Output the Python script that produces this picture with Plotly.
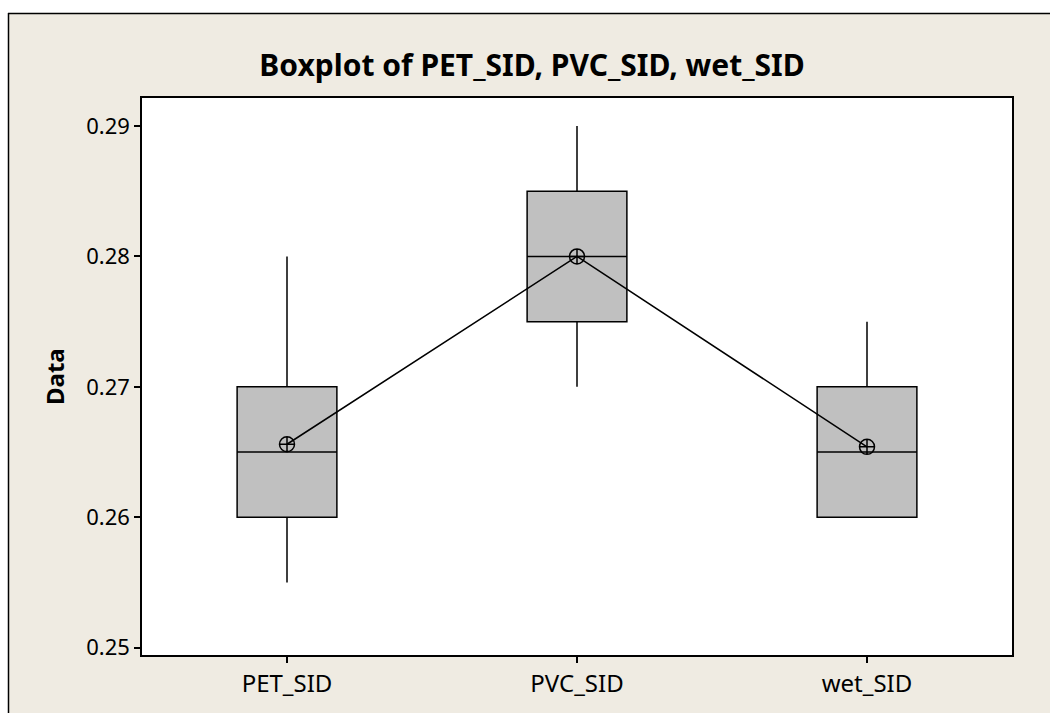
import plotly.graph_objects as go

categories = ["PET_SID", "PVC_SID", "wet_SID"]
q1 = [0.260, 0.275, 0.260]
median = [0.265, 0.280, 0.265]
q3 = [0.270, 0.285, 0.270]
lower_whisker = [0.255, 0.270, 0.260]
upper_whisker = [0.280, 0.290, 0.275]
means = [0.2656, 0.2800, 0.2654]
y_ticks = [0.25, 0.26, 0.27, 0.28, 0.29]

FONT = "Noto Sans"
BEIGE = "#EFEBE2"

fig = go.Figure()
fig.add_trace(go.Box(
    x=categories, q1=q1, median=median, q3=q3,
    lowerfence=lower_whisker, upperfence=upper_whisker,
    fillcolor="#C0C0C0", line=dict(color="black", width=1.5),
    whiskerwidth=0, width=0.344, boxpoints=False, showlegend=False,
    hoverinfo="skip",
))
fig.add_trace(go.Scatter(
    x=categories, y=means, mode="lines+markers",
    line=dict(color="black", width=1.5),
    marker=dict(symbol="circle-cross-open", size=15, color="black", line=dict(width=1.5)),
    showlegend=False,
))

L, R, T, B = 142, 38, 98, 58
W, H = 1050, 713
pw, ph = W - L - R, H - T - B

def px_x(x):
    return (x - L) / pw

def px_y(y):
    return (H - B - y) / ph

shapes = [
    dict(type="rect", xref="paper", yref="paper", x0=px_x(-5), x1=px_x(W + 5),
         y0=px_y(13), y1=px_y(-5), fillcolor="white", line=dict(width=0), layer="above"),
    dict(type="rect", xref="paper", yref="paper", x0=px_x(-5), x1=px_x(8),
         y0=px_y(H + 5), y1=px_y(-5), fillcolor="white", line=dict(width=0), layer="above"),
    dict(type="line", xref="paper", yref="paper", x0=px_x(8), x1=px_x(W + 5),
         y0=px_y(13.5), y1=px_y(13.5), line=dict(color="black", width=1.5), layer="above"),
    dict(type="line", xref="paper", yref="paper", x0=px_x(8.5), x1=px_x(8.5),
         y0=px_y(13), y1=px_y(H + 5), line=dict(color="black", width=1.5), layer="above"),
]

fig.update_layout(
    width=W, height=H,
    margin=dict(l=L, r=R, t=T, b=B),
    paper_bgcolor=BEIGE, plot_bgcolor="white",
    font=dict(family=FONT, color="black", size=22),
    title=dict(text="<b>Boxplot of PET_SID, PVC_SID, wet_SID</b>",
               font=dict(family=FONT, size=30, color="black"),
               x=532 / W, xref="container", xanchor="center",
               y=1 - 65 / H, yref="container", yanchor="middle"),
    shapes=shapes,
    annotations=[dict(text="<b>Data</b>", textangle=-90, xref="paper", yref="paper",
                      x=px_x(54), y=px_y(377), xanchor="center", yanchor="middle",
                      showarrow=False, font=dict(size=24, family=FONT, color="black"))],
)
fig.update_xaxes(
    type="category", range=[-0.5, 2.5], showgrid=False, zeroline=False,
    showline=True, mirror=True, linecolor="black", linewidth=1.5,
    ticks="outside", ticklen=6, tickcolor="black", tickwidth=1.5,
    tickfont=dict(size=24, family=FONT),
)
fig.update_yaxes(
    range=[0.24944, 0.29215], tickvals=y_ticks, tickformat=".2f",
    showgrid=False, zeroline=False,
    showline=True, mirror=True, linecolor="black", linewidth=1.5,
    ticks="outside", ticklen=6, tickcolor="black", tickwidth=1.5,
    tickfont=dict(size=22, family=FONT),
)

fig.write_html("out.html", config={"displayModeBar": False},
               post_script="document.body.style.margin='0';")
